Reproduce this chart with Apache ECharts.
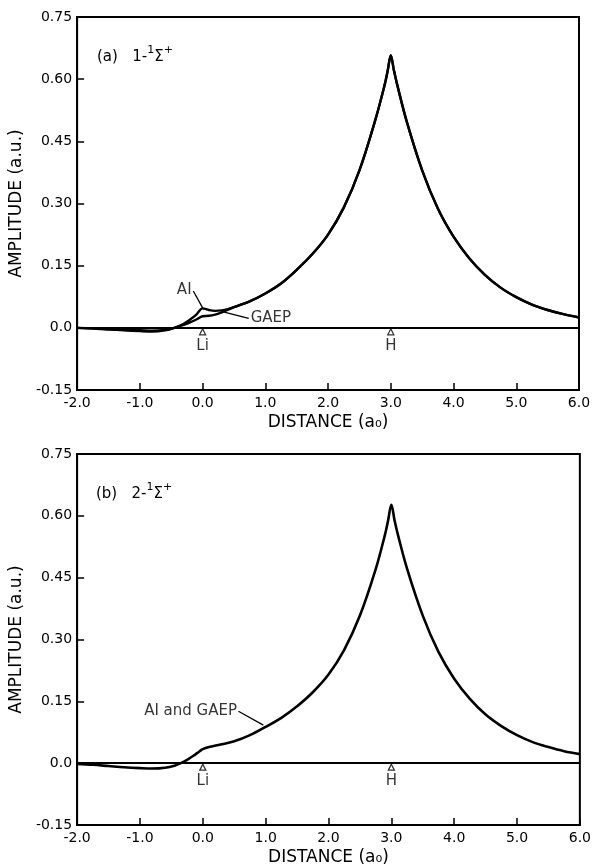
<!DOCTYPE html>
<html>
<head>
<meta charset="utf-8">
<script src="https://cdn.jsdelivr.net/npm/echarts@6/dist/echarts.min.js"></script>
<style>
html,body{margin:0;padding:0;background:#fff;}
#chart{width:594px;height:867px;}
</style>
</head>
<body>
<div id="chart"></div>
<script>
// ---------- data ----------
const xTickLabels = ['-2.0','-1.0','0.0','1.0','2.0','3.0','4.0','5.0','6.0'];
const yTickLabels = ['-0.15','0.0','0.15','0.30','0.45','0.60','0.75'];

// panel (a) 1-1Sigma+
const distA = [-2.0,-1.75,-1.5,-1.25,-1.0,-0.8,-0.6,-0.45,-0.3,-0.2,-0.1,0.0,0.1,0.2,0.3,0.4,0.5,0.75,1.0,1.25,1.5,1.75,2.0,2.25,2.5,2.75,2.9,2.95,3.0,3.05,3.1,3.25,3.5,3.75,4.0,4.25,4.5,4.75,5.0,5.25,5.5,5.75,6.0];
const ampA_AI = [0.0,-0.001,-0.003,-0.005,-0.006,-0.007,-0.005,0.0,0.010,0.020,0.032,0.047,0.043,0.041,0.042,0.045,0.050,0.064,0.083,0.107,0.140,0.178,0.225,0.290,0.380,0.500,0.585,0.620,0.657,0.621,0.588,0.500,0.380,0.288,0.220,0.168,0.128,0.097,0.074,0.056,0.043,0.033,0.025];
const ampA_GAEP = [0.0,-0.002,-0.004,-0.006,-0.008,-0.009,-0.006,0.0,0.007,0.013,0.020,0.028,0.029,0.032,0.037,0.043,0.050,0.064,0.083,0.107,0.140,0.178,0.225,0.290,0.380,0.500,0.585,0.620,0.657,0.621,0.588,0.500,0.380,0.288,0.220,0.168,0.128,0.097,0.074,0.056,0.043,0.033,0.025];

// panel (b) 2-1Sigma+
const distB = [-2.0,-1.75,-1.5,-1.25,-1.0,-0.8,-0.6,-0.45,-0.35,-0.25,-0.15,-0.05,0.0,0.1,0.25,0.5,0.75,1.0,1.25,1.5,1.75,2.0,2.25,2.5,2.75,2.9,2.95,3.0,3.05,3.1,3.25,3.5,3.75,4.0,4.25,4.5,4.75,5.0,5.25,5.5,5.75,6.0];
const ampB = [-0.002,-0.004,-0.007,-0.010,-0.012,-0.013,-0.011,-0.006,0.0,0.008,0.018,0.029,0.034,0.039,0.044,0.053,0.068,0.088,0.110,0.138,0.172,0.215,0.275,0.358,0.470,0.555,0.590,0.627,0.590,0.557,0.472,0.358,0.270,0.205,0.156,0.118,0.090,0.068,0.051,0.039,0.029,0.022];

// nuclei positions
const nucleiX = [0.0, 3.0];
const nucleiNames = ['Li', 'H'];

// annotations: label anchor, leader start, leader end (data units)
const annA_AI = {text:'AI', anchor:[-0.16,0.091], from:[-0.148,0.089], to:[0.005,0.047]};
const annA_GAEP = {text:'GAEP', anchor:[0.75,0.0235], from:[0.735,0.0227], to:[0.33,0.0386]};
const annB = {text:'AI and GAEP', anchor:[0.56,0.127], from:[0.567,0.126], to:[0.963,0.0924]};

const panelTitles = [
  '{t|(a)   1-}{s|1}{t|\u03a3}{s|+}',
  '{t|(b)   2-}{s|1}{t|\u03a3}{s|+}'
];

// ---------- chart ----------
const FONT = 'DejaVu Sans';
const zip = (xs, ys) => xs.map((x, i) => [x, ys[i]]);

function xAxisCfg(gi){
  return {
    type:'value', gridIndex:gi, min:-2, max:6, interval:1,
    name:'DISTANCE (a\u2080)', nameLocation:'middle', nameGap:24,
    nameTextStyle:{fontFamily:FONT, fontSize:17, color:'#000'},
    axisLine:{show:true, onZero:false, lineStyle:{color:'#000', width:2}},
    axisTick:{show:true, inside:true, length:7, lineStyle:{color:'#000', width:1.5}},
    axisLabel:{fontFamily:FONT, fontSize:14, color:'#000', margin:6,
      formatter:(v)=> xTickLabels[Math.round(v+2)]},
    splitLine:{show:false}
  };
}
function yAxisCfg(gi){
  return {
    type:'value', gridIndex:gi, min:-0.15, max:0.75, interval:0.15,
    name:'AMPLITUDE (a.u.)', nameLocation:'middle', nameGap:47,
    nameTextStyle:{fontFamily:FONT, fontSize:17, color:'#000'},
    axisLine:{show:true, onZero:false, lineStyle:{color:'#000', width:2}},
    axisTick:{show:true, inside:true, length:7, lineStyle:{color:'#000', width:1.5}},
    axisLabel:{fontFamily:FONT, fontSize:14, color:'#000', margin:5,
      formatter:(v)=> yTickLabels[Math.round((v+0.15)/0.15)]},
    splitLine:{show:false}
  };
}

function curve(gi, data, w){
  return {type:'line', xAxisIndex:gi, yAxisIndex:gi, data:data, symbol:'none',
    smooth:0.35, lineStyle:{color:'#000', width:w}, silent:true, z:5};
}
function nuclei(gi){
  return {type:'scatter', xAxisIndex:gi, yAxisIndex:gi,
    data: nucleiX.map((x,i)=>({value:[x,0], name:nucleiNames[i]})),
    symbol:'triangle', symbolSize:6, symbolOffset:[0,4],
    itemStyle:{color:'#fff', borderColor:'#000', borderWidth:1.3},
    label:{show:true, position:'bottom', distance:3, formatter:'{b}',
      fontFamily:FONT, fontSize:15, color:'#000'},
    silent:true, z:6,
    markLine:{silent:true, symbol:'none', label:{show:false},
      lineStyle:{color:'#000', width:2, type:'solid'},
      data:[{yAxis:0}]}
  };
}
function leader(gi, a){
  return {type:'line', xAxisIndex:gi, yAxisIndex:gi, data:[a.from, a.to],
    symbol:'none', lineStyle:{color:'#000', width:1.3}, silent:true, z:4};
}
function annText(gi, a, pos){
  return {type:'scatter', xAxisIndex:gi, yAxisIndex:gi,
    data:[{value:a.anchor}], symbolSize:0,
    label:{show:true, position:pos, distance:1, formatter:a.text,
      fontFamily:FONT, fontSize:15, color:'#000'}, silent:true};
}

const titleRich = {
  t:{fontFamily:FONT, fontSize:15, fontWeight:'normal', color:'#000', verticalAlign:'bottom', lineHeight:20},
  s:{fontFamily:FONT, fontSize:11, fontWeight:'normal', color:'#000', verticalAlign:'top', lineHeight:20}
};

const chart = echarts.init(document.getElementById('chart'), null, {renderer:'canvas'});
chart.setOption({
  backgroundColor:'#fff',
  animation:false,
  title:[
    {text:panelTitles[0], left:92, top:40, textStyle:{fontWeight:'normal', rich:titleRich}},
    {text:panelTitles[1], left:91, top:477, textStyle:{fontWeight:'normal', rich:titleRich}}
  ],
  grid:[
    {left:77, top:17, width:502, height:373, show:true, borderColor:'#000', borderWidth:2, backgroundColor:'transparent'},
    {left:75, top:454, width:506, height:373, show:true, borderColor:'#000', borderWidth:2, backgroundColor:'transparent'}
  ],
  xAxis:[xAxisCfg(0), xAxisCfg(1)],
  yAxis:[yAxisCfg(0), yAxisCfg(1)],
  series:[
    curve(0, zip(distA, ampA_AI), 2.4),
    curve(0, zip(distA, ampA_GAEP), 2.4),
    nuclei(0),
    leader(0, annA_AI),
    leader(0, annA_GAEP),
    annText(0, annA_AI, 'left'),
    annText(0, annA_GAEP, 'right'),
    curve(1, zip(distB, ampB), 2.6),
    nuclei(1),
    leader(1, annB),
    annText(1, annB, 'left')
  ]
});
</script>
</body>
</html>
